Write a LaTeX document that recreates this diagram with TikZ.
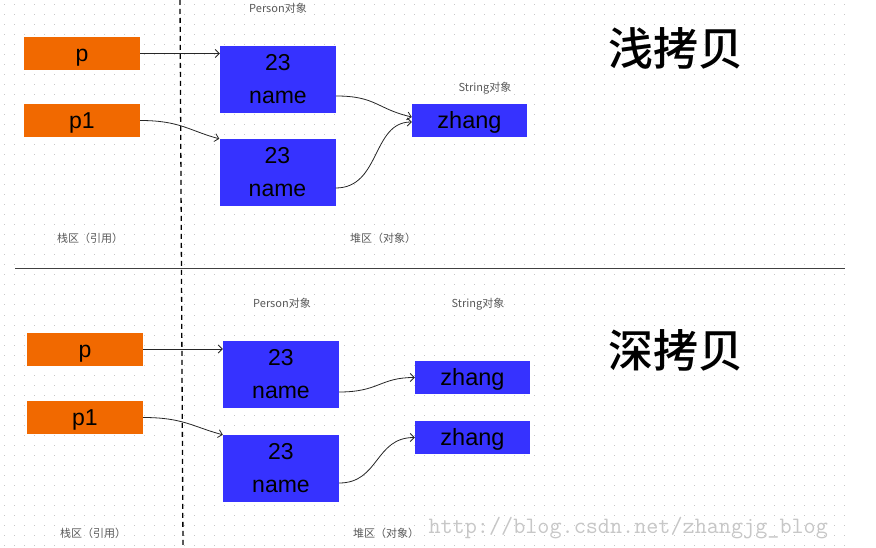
\documentclass[tikz,border=0pt]{standalone}
\usepackage{fontspec}
\usepackage{tikz}
\usepackage{xcolor}
\usetikzlibrary{arrows.meta}
\setmainfont{Liberation Sans}
\newfontfamily\cjk{Noto Sans CJK SC}[BoldFont={Noto Sans CJK SC Medium}]

\definecolor{refcolor}{RGB}{241,105,0}
\definecolor{objcolor}{RGB}{54,50,255}

\tikzset{
  refbox/.style={fill=refcolor, minimum width=116pt, minimum height=33pt, inner sep=0pt,
    text height=17pt, text depth=1pt, font=\fontsize{23}{26}\selectfont},
  objbox/.style={fill=objcolor, minimum width=116pt, minimum height=67pt, inner sep=0pt,
    align=center, font=\fontsize{23}{33}\selectfont},
  strbox/.style={fill=objcolor, minimum width=115pt, minimum height=33pt, inner sep=0pt,
    text height=17pt, text depth=1pt, font=\fontsize{23.5}{26}\selectfont},
  area/.style={font=\cjk\fontsize{11}{13}\selectfont, text=black!65},
  title/.style={font=\cjk\bfseries\fontsize{45}{50}\selectfont},
  ptr/.style={-{Straight Barb[length=4pt,width=8pt]}, line width=0.8pt, black!85}
}

\begin{document}
\begin{tikzpicture}[x=1pt,y=-1pt]
\useasboundingbox (0,0) rectangle (876,548);
\fill[white] (0,0) rectangle (876,548);

% Dotted background
\foreach \y in {5,15,...,545}
  \draw[black!22, line width=1pt, dash pattern=on 1pt off 9pt] (4,\y) -- (845,\y);

% Separators
\draw[line width=1.2pt, black!75] (15,268.5) -- (845,268.5);
\draw[line width=1.3pt, dash pattern=on 5pt off 4pt] (180,0) -- (183,548);

% Shallow copy
\node[refbox] (p) at (82,53.5) {p};
\node[refbox] (p1) at (82,120.5) {p1};
\node[objbox] (pa1) at (278,79.5) {23\\name};
\node[objbox] (pa2) at (277.5,172.5) {23\\name};
\node[strbox] (zh) at (469.5,120.5) {zhang};

\draw[ptr] (p.east) -- (p.east -| pa1.west);
\draw[ptr] (p1.east) .. controls +(40,0) and +(-30,-8) .. (pa2.north west);
\draw[ptr] ([yshift=-16.5pt]pa1.east) .. controls +(40,0) and +(-35,-8) .. ([yshift=3.5pt]zh.west);
\draw[ptr] ([yshift=-15.5pt]pa2.east) .. controls +(45,0) and +(-40,0) .. ([yshift=-1.5pt]zh.west);

\node[area] (perA) at (278,8) {Person对象};
\node[area] (strA) at (485,88) {String对象};
\node[area] (stackA) at (90,238) {栈区（引用）};
\node[area] (heapA) at (383,238) {堆区（对象）};
\node[title] (shallow) at (676,48) {浅拷贝};

% Deep copy
\node[refbox] (q) at (85,349) {p};
\node[refbox] (q1) at (85,417.5) {p1};
\node[objbox] (pb1) at (281,374.5) {23\\name};
\node[objbox] (pb2) at (281,468.5) {23\\name};
\node[strbox] (zh1) at (472.5,377.5) {zhang};
\node[strbox] (zh2) at (472.5,437.5) {zhang};

\draw[ptr] (q.east) -- (q.east -| pb1.west);
\draw[ptr] (q1.east) .. controls +(40,0) and +(-30,-8) .. (pb2.north west);
\draw[ptr] ([yshift=-17.5pt]pb1.east) .. controls +(40,0) and +(-35,0) .. (zh1.west);
\draw[ptr] ([yshift=-14.5pt]pb2.east) .. controls +(40,0) and +(-40,0) .. (zh2.west);

\node[area] (perB) at (282,303) {Person对象};
\node[area] (strB) at (478,304) {String对象};
\node[area] (stackB) at (93,533) {栈区（引用）};
\node[area] (heapB) at (386,533) {堆区（对象）};
\node[title] (deep) at (676,350) {深拷贝};

\node[font=\ttfamily\fontsize{23.5}{26}\selectfont, text=black!22, anchor=west] (wm) at (425,528) {http://blog.csdn.net/zhangjg\_blog};
\end{tikzpicture}
\end{document}
